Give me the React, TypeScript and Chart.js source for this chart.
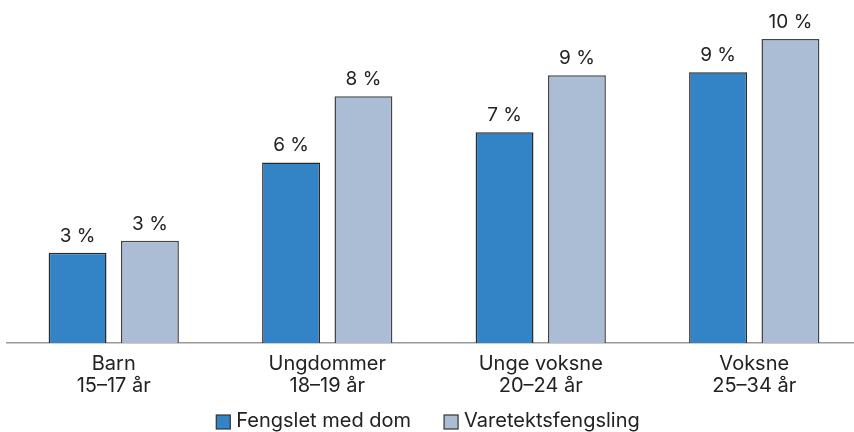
import React, { useEffect, useRef } from "react";
import { Chart, registerables } from "chart.js";

Chart.register(...registerables);

const categories: string[][] = [
  ["Barn", "15–17 år"],
  ["Ungdommer", "18–19 år"],
  ["Unge voksne", "20–24 år"],
  ["Voksne", "25–34 år"],
];
const seriesNames = ["Fengslet med dom", "Varetektsfengsling"];
const fengsletMedDom = [3.0, 6.0, 7.0, 9.0];
const varetektsfengsling = [3.4, 8.2, 8.9, 10.1];
const colors = ["#3384C6", "#ABBDD5"];
const borders = ["#2a2a2a", "#444444"];

const FONT = "Inter, Roboto, 'Liberation Sans', sans-serif";
const TEXT = "#222";

const valueLabels = {
  id: "valueLabels",
  afterDatasetsDraw(chart: any) {
    const ctx = chart.ctx;
    ctx.save();
    ctx.fillStyle = TEXT;
    ctx.font = `19px ${FONT}`;
    ctx.textAlign = "center";
    ctx.textBaseline = "alphabetic";
    chart.data.datasets.forEach((ds: any, di: number) => {
      const meta = chart.getDatasetMeta(di);
      meta.data.forEach((bar: any, i: number) => {
        const v = ds.data[i] as number;
        ctx.fillText(`${Math.round(v)} %`, bar.x, bar.y - 11);
      });
    });
    ctx.restore();
  },
};

const bottomLegend = {
  id: "bottomLegend",
  afterDraw(chart: any) {
    const ctx = chart.ctx;
    const ds = chart.data.datasets;
    ctx.save();
    ctx.font = `20px ${FONT}`;
    ctx.textBaseline = "middle";
    ctx.textAlign = "left";
    const box = 14;
    const gapBoxText = 6;
    const gapItems = 33;
    const widths = ds.map((d: any) => box + gapBoxText + ctx.measureText(d.label).width);
    const total = widths.reduce((a: number, b: number) => a + b, 0) + gapItems * (ds.length - 1);
    const cx = (chart.chartArea.left + chart.chartArea.right) / 2 - 6;
    let x = cx - total / 2;
    const y = chart.height - 11;
    ds.forEach((d: any, i: number) => {
      ctx.fillStyle = d.backgroundColor;
      ctx.fillRect(x, y - box / 2 + 1, box, box);
      ctx.strokeStyle = "#333";
      ctx.lineWidth = 1.2;
      ctx.strokeRect(x, y - box / 2 + 1, box, box);
      ctx.fillStyle = TEXT;
      ctx.fillText(d.label, x + box + gapBoxText, y);
      x += widths[i] + gapItems;
    });
    ctx.restore();
  },
};

export default function App() {
  const ref = useRef<HTMLCanvasElement | null>(null);
  useEffect(() => {
    if (!ref.current) return;
    const chart = new Chart(ref.current, {
      type: "bar",
      data: {
        labels: categories,
        datasets: [
          {
            label: seriesNames[0],
            data: fengsletMedDom,
            backgroundColor: colors[0],
            borderColor: borders[0],
            borderWidth: 1.5,
            borderSkipped: "bottom",
          },
          {
            label: seriesNames[1],
            data: varetektsfengsling,
            backgroundColor: colors[1],
            borderColor: borders[1],
            borderWidth: 1.5,
            borderSkipped: "bottom",
          },
        ],
      },
      options: {
        animation: false,
        responsive: false,
        maintainAspectRatio: false,
        datasets: {
          bar: { categoryPercentage: 0.678, barPercentage: 0.8 },
        },
        layout: { padding: { left: 7, right: 9, top: 12, bottom: 25 } },
        scales: {
          x: {
            grid: { display: false, drawTicks: false },
            border: { display: true, color: "#999", width: 1.5 },
            ticks: {
              color: TEXT,
              font: { family: FONT, size: 20, lineHeight: "22px" },
              padding: 10,
              maxRotation: 0,
            },
          },
          y: {
            display: false,
            min: 0,
            max: 11,
          },
        },
        plugins: {
          legend: { display: false },
          tooltip: { enabled: false },
        },
      },
      plugins: [valueLabels, bottomLegend],
    });
    return () => chart.destroy();
  }, []);
  return (
    <div
      style={{
        position: "fixed",
        left: 0,
        top: 0,
        width: 854,
        height: 432,
        overflow: "hidden",
        background: "#fff",
      }}
    >
      <canvas ref={ref} width={870} height={432} style={{ display: "block" }} />
    </div>
  );
}
